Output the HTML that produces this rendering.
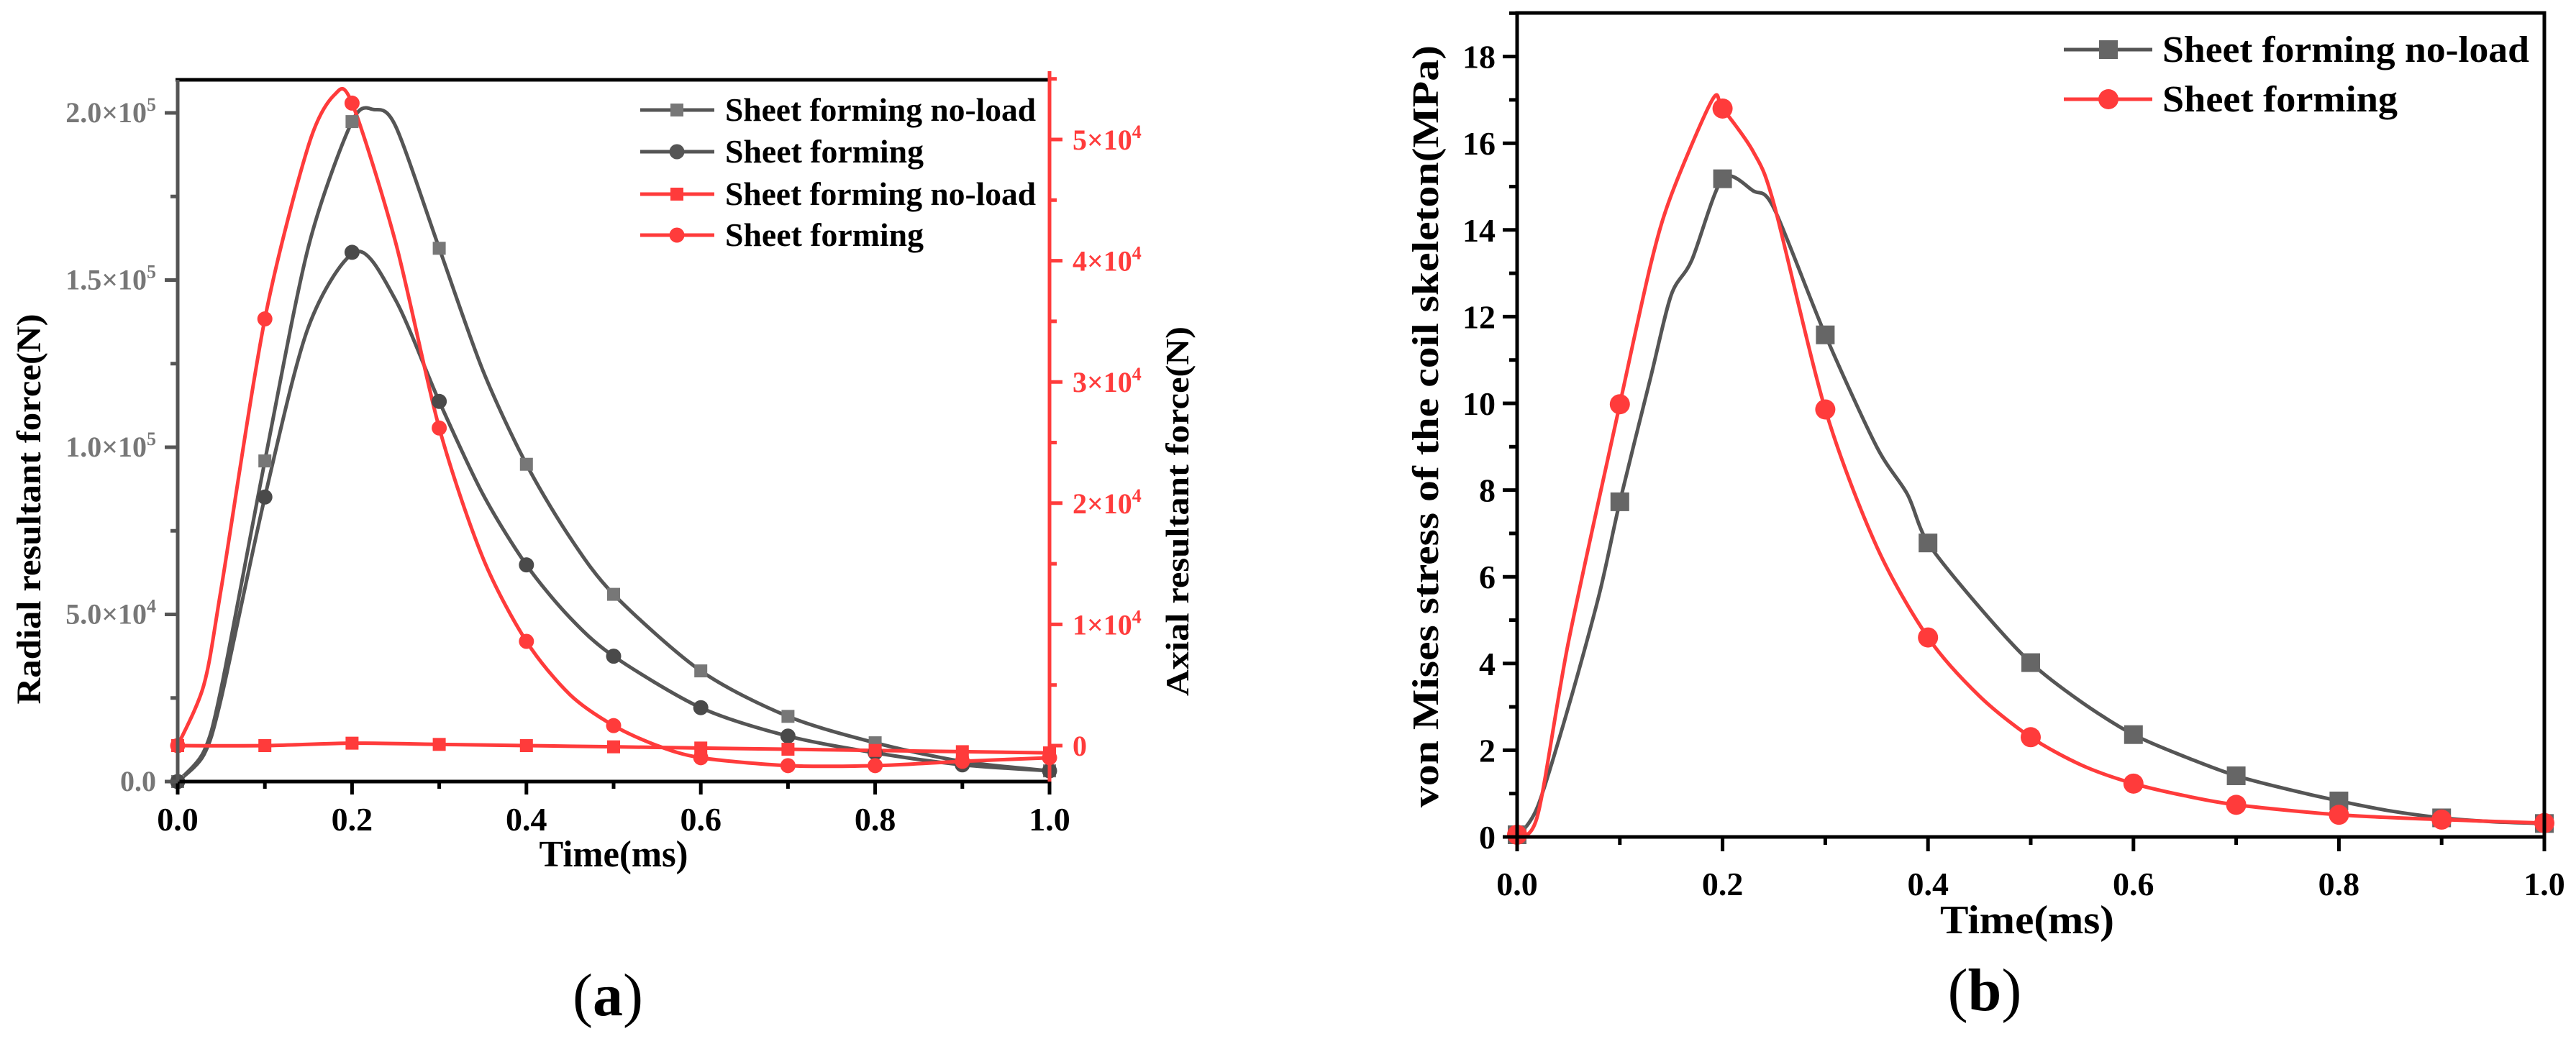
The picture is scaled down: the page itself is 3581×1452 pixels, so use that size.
<!DOCTYPE html>
<html><head><meta charset="utf-8">
<style>
html,body{margin:0;padding:0;background:#fff;}
svg{display:block;font-family:"Liberation Serif",serif;font-weight:bold;}
</style></head>
<body>
<svg id="fig" width="3581" height="1452" viewBox="0 0 3581 1452" xmlns="http://www.w3.org/2000/svg">
<g id="chartA"></g>
<g id="chartB"></g>
</svg>
<script>
// ---------- Chart (a) data ----------
const aMarkerX = [0,0.1,0.2,0.3,0.4,0.5,0.6,0.7,0.8,0.9,1.0];
const aRadNoLoadMarks = [0,0.959,1.974,1.595,0.949,0.560,0.331,0.195,0.116,0.056,0.032]; // x1e5
const aRadFormMarks = [0,0.851,1.583,1.137,0.648,0.375,0.221,0.136,0.086,0.050,0.032];   // x1e5
const aAxNoLoadMarks = [0,0,0.02,0.01,0,-0.01,-0.02,-0.03,-0.04,-0.05,-0.06];          // x1e4
const aAxFormMarks = [0,3.52,5.30,2.62,0.86,0.165,-0.10,-0.165,-0.165,-0.13,-0.10];     // x1e4
const aRadNoLoadCurveX = [0,0.03,0.05,0.1,0.15,0.2,0.225,0.25,0.3,0.35,0.4,0.45,0.5,0.6,0.7,0.8,0.9,1.0];
const aRadNoLoadCurveY = [0,0.09,0.28,0.959,1.60,1.974,2.01,1.96,1.595,1.23,0.949,0.73,0.560,0.331,0.195,0.116,0.060,0.032];
const aRadFormCurveX = [0,0.03,0.05,0.1,0.15,0.205,0.25,0.3,0.35,0.4,0.45,0.5,0.6,0.7,0.8,0.9,1.0];
const aRadFormCurveY = [0,0.08,0.25,0.851,1.36,1.585,1.44,1.137,0.86,0.648,0.49,0.375,0.221,0.136,0.086,0.050,0.032];
const aAxFormCurveX = [0,0.03,0.05,0.1,0.15,0.18,0.2,0.25,0.3,0.35,0.4,0.45,0.5,0.55,0.6,0.7,0.8,0.9,1.0];
const aAxFormCurveY = [0,0.5,1.3,3.52,4.95,5.37,5.30,4.15,2.62,1.55,0.86,0.42,0.165,0.0,-0.10,-0.165,-0.165,-0.13,-0.10];
const aLeftTicks = [0,0.5,1.0,1.5,2.0];
const aLeftTickLabels = ["0.0","5.0×10","1.0×10","1.5×10","2.0×10"];
const aLeftTickExp = ["","4","5","5","5"];
const aRightTicks = [0,1,2,3,4,5];
const aRightTickLabels = ["0","1×10","2×10","3×10","4×10","5×10"];
const aXTicks = [0,0.2,0.4,0.6,0.8,1.0];
const aXTickLabels = ["0.0","0.2","0.4","0.6","0.8","1.0"];
const aLegend = ["Sheet forming no-load","Sheet forming","Sheet forming no-load","Sheet forming"];

// ---------- Chart (b) data ----------
const bMarkerX = [0,0.1,0.2,0.3,0.4,0.5,0.6,0.7,0.8,0.9,1.0];
const bNoLoadMarks = [0.05,7.73,15.18,11.58,6.78,4.02,2.36,1.41,0.83,0.44,0.31];
const bFormMarks = [0.05,9.98,16.8,9.86,4.6,2.3,1.23,0.74,0.51,0.40,0.32];
const bNoLoadCurveX = [0,0.02,0.05,0.08,0.1,0.13,0.15,0.17,0.2,0.23,0.25,0.3,0.35,0.38,0.4,0.45,0.5,0.55,0.6,0.65,0.7,0.75,0.8,0.85,0.9,0.95,1.0];
const bNoLoadCurveY = [0,0.7,3.0,5.6,7.73,10.6,12.5,13.3,15.18,14.9,14.5,11.58,9.0,7.9,6.78,5.3,4.02,3.1,2.36,1.85,1.41,1.1,0.83,0.6,0.44,0.35,0.31];
const bFormCurveX = [0,0.02,0.05,0.1,0.13,0.15,0.19,0.2,0.23,0.25,0.3,0.35,0.4,0.45,0.5,0.55,0.6,0.65,0.7,0.8,0.9,1.0];
const bFormCurveY = [0,0.5,4.5,9.98,13.2,14.8,17.0,16.8,15.8,14.6,9.86,6.7,4.6,3.25,2.3,1.65,1.23,0.95,0.74,0.51,0.40,0.32];
const bYTicks = [0,2,4,6,8,10,12,14,16,18];
const bXTicks = [0,0.2,0.4,0.6,0.8,1.0];
const bXTickLabels = ["0.0","0.2","0.4","0.6","0.8","1.0"];
const bLegend = ["Sheet forming no-load","Sheet forming"];

const NS = "http://www.w3.org/2000/svg";
const GREY = "#555555", LGREY = "#777777", RED = "#ff3b3b";
function mk(parent, tag, attrs, text){
  const e = document.createElementNS(NS, tag);
  for (const k in attrs) e.setAttribute(k, attrs[k]);
  if (text !== undefined) e.textContent = text;
  parent.appendChild(e);
  return e;
}
function smoothPath(pts){
  let d = "M" + pts[0][0] + "," + pts[0][1];
  const k = 7;
  for (let i = 0; i < pts.length - 1; i++){
    const p0 = pts[Math.max(0,i-1)], p1 = pts[i], p2 = pts[i+1], p3 = pts[Math.min(pts.length-1,i+2)];
    const c1x = p1[0] + (p2[0]-p0[0])/k, c1y = p1[1] + (p2[1]-p0[1])/k;
    const c2x = p2[0] - (p3[0]-p1[0])/k, c2y = p2[1] - (p3[1]-p1[1])/k;
    d += " C" + c1x + "," + c1y + " " + c2x + "," + c2y + " " + p2[0] + "," + p2[1];
  }
  return d;
}

// ================= Chart A =================
(function(){
  const g = document.getElementById("chartA");
  const L = 247, R = 1459, T = 111, B = 1087;
  const sx = v => L + v*(R-L);
  const syL = v => B - v*(B-157)/2.0;             // units 1e5
  const syR = v => 1037 - v*168.6;                  // units 1e4

  function curve(xs, ys, fy, color, name){
    const p = mk(g, "path", {d: smoothPath(xs.map((x,i)=>[sx(x), fy(ys[i])])), fill:"none", stroke:color, "stroke-width":5});
    
    
  }
  function marks(ys, fy, color, shape, size, name){
    ys.forEach((v,i)=>{
      const cx = sx(aMarkerX[i]), cy = fy(v);
      let m;
      if (shape === "sq") m = mk(g, "rect", {x:cx-size/2, y:cy-size/2, width:size, height:size, fill:color});
      else m = mk(g, "circle", {cx:cx, cy:cy, r:size/2, fill:color});
      
      
    });
  }
  curve(aRadFormCurveX, aRadFormCurveY, syL, GREY, "radial-sheet-forming-line");
  curve(aRadNoLoadCurveX, aRadNoLoadCurveY, syL, GREY, "radial-no-load-line");
  curve(aMarkerX, aAxNoLoadMarks, syR, RED, "axial-no-load-line");
  curve(aAxFormCurveX, aAxFormCurveY, syR, RED, "axial-sheet-forming-line");
  marks(aRadNoLoadMarks, syL, "#777777", "sq", 18, "radial-no-load-marker");
  marks(aRadFormMarks, syL, "#4a4a4a", "ci", 21, "radial-sheet-forming-marker");
  marks(aAxNoLoadMarks, syR, RED, "sq", 18, "axial-no-load-marker");
  marks(aAxFormMarks, syR, RED, "ci", 21, "axial-sheet-forming-marker");

  let a;
  a = mk(g, "line", {x1:L-3, y1:T, x2:R, y2:T, stroke:"#000", "stroke-width":5});  
  a = mk(g, "line", {x1:L-3, y1:B, x2:R, y2:B, stroke:"#000", "stroke-width":5});  
  a = mk(g, "line", {x1:L, y1:T, x2:L, y2:B+2, stroke:GREY, "stroke-width":5});  
  a = mk(g, "line", {x1:R, y1:T-12, x2:R, y2:B+3, stroke:RED, "stroke-width":5});  

  aXTicks.forEach((v,i)=>{
    mk(g, "line", {x1:sx(v), y1:B, x2:sx(v), y2:B+18, stroke:"#000", "stroke-width":5});
    if (i < aXTicks.length-1) mk(g, "line", {x1:sx(v+0.1), y1:B, x2:sx(v+0.1), y2:B+10, stroke:"#000", "stroke-width":5});
    const t = mk(g, "text", {x:sx(v), y:B+68, "font-size":46, "text-anchor":"middle", fill:"#000"}, aXTickLabels[i]);
    
    
  });
  aLeftTicks.forEach((v,i)=>{
    mk(g, "line", {x1:L, y1:syL(v), x2:L-18, y2:syL(v), stroke:GREY, "stroke-width":5});
    if (v < 2.0) mk(g, "line", {x1:L, y1:syL(v+0.25), x2:L-10, y2:syL(v+0.25), stroke:GREY, "stroke-width":5});
    const t = mk(g, "text", {x:L-30, y:syL(v)+13, "font-size":40, "text-anchor":"end", fill:LGREY});
    
    
    mk(t, "tspan", {}, aLeftTickLabels[i]);
    if (aLeftTickExp[i]) mk(t, "tspan", {dy:-16, "font-size":26}, aLeftTickExp[i]);
  });
  aRightTicks.forEach((v,i)=>{
    mk(g, "line", {x1:R, y1:syR(v), x2:R+18, y2:syR(v), stroke:RED, "stroke-width":5});
    mk(g, "line", {x1:R, y1:syR(v+0.5), x2:R+10, y2:syR(v+0.5), stroke:RED, "stroke-width":5});
    const t = mk(g, "text", {x:R+32, y:syR(v)+14, "font-size":40, "text-anchor":"start", fill:RED});
    
    
    mk(t, "tspan", {}, aRightTickLabels[i]);
    if (i>0) mk(t, "tspan", {dy:-16, "font-size":26}, "4");
  });
  let t = mk(g, "text", {x:(L+R)/2, y:1205, "font-size":52, "text-anchor":"middle", fill:"#000", textLength:207, lengthAdjust:"spacingAndGlyphs"}, "Time(ms)");
   
  t = mk(g, "text", {x:0, y:0, "font-size":48, "text-anchor":"middle", fill:"#000", transform:"translate(56,708) rotate(-90)", textLength:543, lengthAdjust:"spacingAndGlyphs"}, "Radial resultant force(N)");
   
  t = mk(g, "text", {x:0, y:0, "font-size":46, "text-anchor":"middle", fill:"#000", transform:"translate(1652,711) rotate(-90)", textLength:514, lengthAdjust:"spacingAndGlyphs"}, "Axial resultant force(N)");
   
  t = mk(g, "text", {x:845, y:1412, "font-size":84, "text-anchor":"middle", fill:"#000", "font-weight":"normal"});
   
  mk(t,"tspan",{},"(");
  mk(t,"tspan",{"font-weight":"bold"},"a");
  mk(t,"tspan",{},")");
  const cols = [LGREY, GREY, RED, RED], shp = ["sq","ci","sq","ci"], ly = [153,211,270,327];
  aLegend.forEach((s,i)=>{
    const lg = mk(g, "g", {});
    
    
    const lc = i<2 ? GREY : RED;
    mk(lg, "line", {x1:890, y1:ly[i], x2:993, y2:ly[i], stroke:lc, "stroke-width":5});
    if (shp[i]==="sq") mk(lg, "rect", {x:932, y:ly[i]-9, width:18, height:18, fill:cols[i]});
    else mk(lg, "circle", {cx:941, cy:ly[i], r:10.5, fill:cols[i]});
    mk(lg, "text", {x:1008, y:ly[i]+15, "font-size":46, fill:"#000", textLength: i%2===0?432:276, lengthAdjust:"spacingAndGlyphs"}, s);
  });
})();

// ================= Chart B =================
(function(){
  const g = document.getElementById("chartB");
  const L = 2109, R = 3537, T = 18, B = 1164;
  const sx = v => L + v*(R-L);
  const sy = v => B - v*60.3;
  function curve(xs, ys, color, name){
    const p = mk(g, "path", {d: smoothPath(xs.map((x,i)=>[sx(x), sy(ys[i])])), fill:"none", stroke:color, "stroke-width":5});
    
    
  }
  function marks(ys, color, shape, size, name){
    ys.forEach((v,i)=>{
      const cx = sx(bMarkerX[i]), cy = sy(v);
      let m;
      if (shape === "sq") m = mk(g, "rect", {x:cx-size/2, y:cy-size/2, width:size, height:size, fill:color});
      else m = mk(g, "circle", {cx:cx, cy:cy, r:size/2, fill:color});
      
      
    });
  }
  curve(bNoLoadCurveX, bNoLoadCurveY, GREY, "no-load-line");
  curve(bFormCurveX, bFormCurveY, RED, "sheet-forming-line");
  marks(bNoLoadMarks, "#666666", "sq", 26, "no-load-marker");
  marks(bFormMarks, RED, "ci", 28, "sheet-forming-marker");

  let a = mk(g, "rect", {x:L, y:T, width:R-L, height:B-T, fill:"none", stroke:"#000", "stroke-width":5});
   
  bXTicks.forEach((v,i)=>{
    mk(g, "line", {x1:sx(v), y1:B, x2:sx(v), y2:B+20, stroke:"#000", "stroke-width":5});
    if (i < bXTicks.length-1) mk(g, "line", {x1:sx(v+0.1), y1:B, x2:sx(v+0.1), y2:B+11, stroke:"#000", "stroke-width":5});
    const t = mk(g, "text", {x:sx(v), y:1245, "font-size":46, "text-anchor":"middle", fill:"#000"}, bXTickLabels[i]);
     
  });
  bYTicks.forEach(v=>{
    mk(g, "line", {x1:L, y1:sy(v), x2:L-20, y2:sy(v), stroke:"#000", "stroke-width":5});
    mk(g, "line", {x1:L, y1:sy(v+1), x2:L-11, y2:sy(v+1), stroke:"#000", "stroke-width":5});
    const t = mk(g, "text", {x:L-30, y:sy(v)+16, "font-size":46, "text-anchor":"end", fill:"#000"}, String(v));
     
  });
  let t = mk(g, "text", {x:(L+R)/2-5, y:1298, "font-size":56, "text-anchor":"middle", fill:"#000", textLength:242, lengthAdjust:"spacingAndGlyphs"}, "Time(ms)");
   
  t = mk(g, "text", {x:0, y:0, "font-size":52, "text-anchor":"middle", fill:"#000", transform:"translate(1999,593) rotate(-90)", textLength:1060, lengthAdjust:"spacingAndGlyphs"}, "von Mises stress of the coil skeleton(MPa)");
   
  t = mk(g, "text", {x:2759, y:1405, "font-size":84, "text-anchor":"middle", fill:"#000", "font-weight":"normal"});
   
  mk(t,"tspan",{},"(");
  mk(t,"tspan",{"font-weight":"bold"},"b");
  mk(t,"tspan",{},")");
  const ly = [69,138], lc = [GREY, RED], mc = ["#666666", RED];
  bLegend.forEach((s,i)=>{
    const lg = mk(g, "g", {});
    
    
    mk(lg, "line", {x1:2869, y1:ly[i], x2:2992, y2:ly[i], stroke:lc[i], "stroke-width":5});
    if (i===0) mk(lg, "rect", {x:2918, y:ly[i]-13, width:26, height:26, fill:mc[i]});
    else mk(lg, "circle", {cx:2931, cy:ly[i], r:14, fill:mc[i]});
    mk(lg, "text", {x:3006, y:ly[i]+17, "font-size":52, fill:"#000", textLength: i===0?510:327, lengthAdjust:"spacingAndGlyphs"}, s);
  });
})();
</script>
</body></html>
